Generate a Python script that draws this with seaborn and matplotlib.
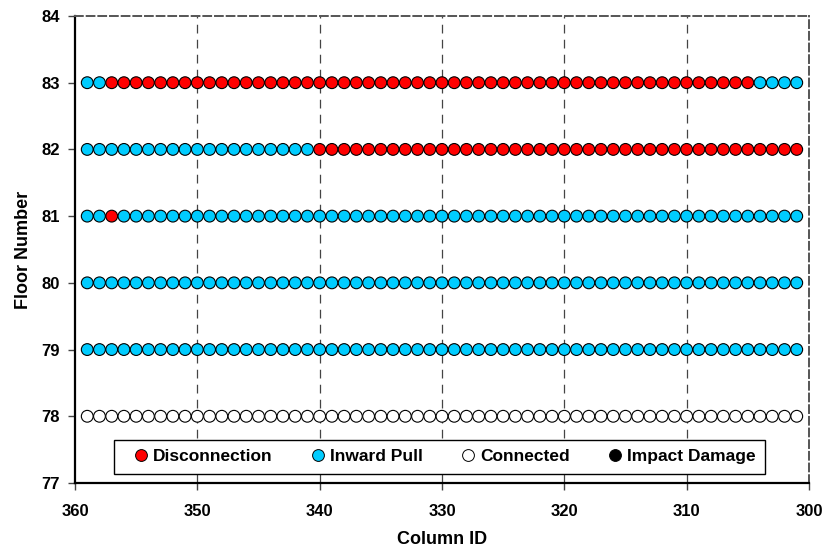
import matplotlib
matplotlib.use("Agg")
import matplotlib.pyplot as plt
import numpy as np
import pandas as pd
import seaborn as sns
from matplotlib.lines import Line2D

# column IDs, left to right (axis runs 360 -> 300)
columns = list(range(359, 300, -1))
floors = [83, 82, 81, 80, 79, 78]

DIS, INW, CON, IMP = "Disconnection", "Inward Pull", "Connected", "Impact Damage"

floor_83 = [INW] * 2 + [DIS] * 53 + [INW] * 4
floor_82 = [INW] * 19 + [DIS] * 40
floor_81 = [INW] * 2 + [DIS] * 1 + [INW] * 56
floor_80 = [INW] * 59
floor_79 = [INW] * 59
floor_78 = [CON] * 59

status_by_floor = [floor_83, floor_82, floor_81, floor_80, floor_79, floor_78]
categories = [DIS, INW, CON, IMP]
colors = {DIS: "#FF0000", INW: "#00CCFF", CON: "#FFFFFF", IMP: "#000000"}

rows = []
for fl, st in zip(floors, status_by_floor):
    for col, s in zip(columns, st):
        rows.append({"column": col, "floor": fl, "status": s})
df = pd.DataFrame(rows)

sns.set_style("white")
plt.rcParams["font.family"] = ["Liberation Sans", "DejaVu Sans"]
plt.rcParams["font.weight"] = "bold"
plt.rcParams["text.color"] = "black"
plt.rcParams["axes.labelcolor"] = "black"
plt.rcParams["xtick.color"] = "black"
plt.rcParams["ytick.color"] = "black"

fig = plt.figure(figsize=(8.27, 5.53), dpi=100)
ax = fig.add_axes([0.0907, 0.1266, 0.8875, 0.8445])

sns.scatterplot(data=df, x="column", y="floor", hue="status", hue_order=categories,
                palette=colors, s=72, edgecolor="black", linewidth=0.8, legend=False,
                ax=ax, zorder=3)

ax.set_xlim(360, 300)
ax.set_ylim(77, 84)
ax.set_xticks(np.arange(360, 299, -10))
ax.set_yticks(np.arange(77, 85, 1))
for x in range(350, 309, -10):
    ax.axvline(x, color="#444444", lw=0.9, ls=(0, (7, 5)), zorder=1)

ax.spines["left"].set_color("black")
ax.spines["left"].set_linewidth(1.6)
ax.spines["bottom"].set_color("black")
ax.spines["bottom"].set_linewidth(1.6)
for side in ("top", "right"):
    ax.spines[side].set_color("#555555")
    ax.spines[side].set_linewidth(1.4)
    ax.spines[side].set_linestyle((0, (4, 2)))

ax.tick_params(axis="both", direction="out", length=5, width=1, color="#444444",
               labelcolor="black", labelsize=12, left=True, bottom=True)
ax.tick_params(axis="x", pad=10)
ax.tick_params(axis="y", pad=6)
for lab in ax.get_xticklabels() + ax.get_yticklabels():
    lab.set_fontweight("bold")

ax.set_xlabel("Column ID", fontsize=13, fontweight="bold", color="black", labelpad=9)
ax.set_ylabel("Floor Number", fontsize=13, fontweight="bold", color="black", labelpad=7)

handles = [Line2D([], [], marker="o", ls="none", markersize=8.5, markerfacecolor=colors[c],
                  markeredgecolor="black", markeredgewidth=0.7) for c in categories]
leg = ax.legend(handles, categories, ncol=4, loc="lower left",
                bbox_to_anchor=((114 - 75) / 734, (483 - 474) / 467),
                frameon=True, fancybox=False, framealpha=1, edgecolor="black",
                handlelength=2.0, handletextpad=-0.3, columnspacing=1.6,
                borderpad=0.55, borderaxespad=0, fontsize=12.5)
leg.get_frame().set_linewidth(1.0)
for t in leg.get_texts():
    t.set_fontweight("bold")
    t.set_color("black")

fig.savefig("out.png", dpi=100)
